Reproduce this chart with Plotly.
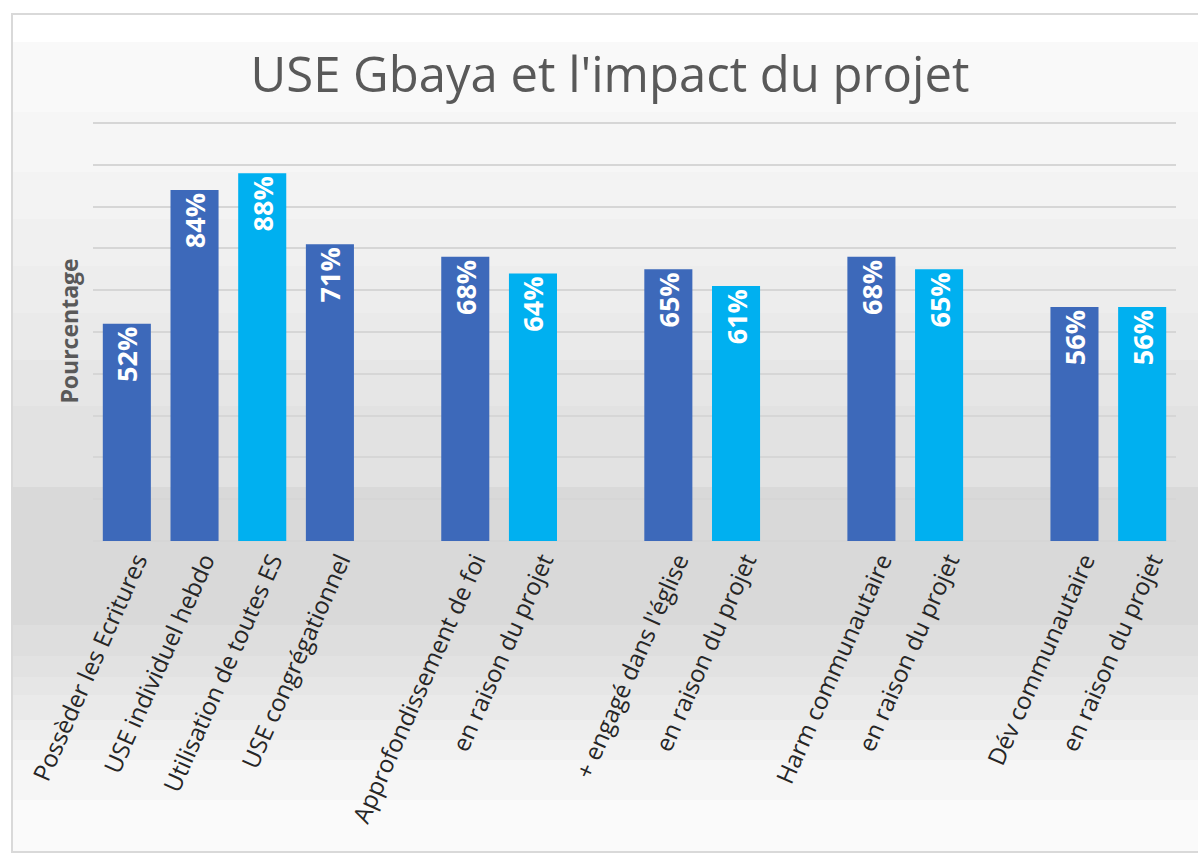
import plotly.graph_objects as go

# ---------------- data ----------------
title_text = "USE Gbaya et l'impact du projet"
y_title = "Pourcentage"

group1_labels = ["Possèder les Ecritures", "USE individuel hebdo",
                 "Utilisation de toutes ES", "USE congrégationnel"]
group1_values = [52, 84, 88, 71]

group2_labels = ["Approfondissement de foi", "en raison du projet"]
group2_values = [68, 64]

group3_labels = ["+ engagé dans l'église", "en raison du projet"]
group3_values = [65, 61]

group4_labels = ["Harm communautaire", "en raison du projet"]
group4_values = [68, 65]

group5_labels = ["Dév communautaire", "en raison du projet"]
group5_values = [56, 56]

# ---------------- styles ----------------
DARK = "#3D69BA"
LIGHT = "#00B0F0"
group1_colors = [DARK, DARK, LIGHT, DARK]
pair_colors = [DARK, LIGHT]

groups = [
    (group1_labels, group1_values, group1_colors),
    (group2_labels, group2_values, pair_colors),
    (group3_labels, group3_values, pair_colors),
    (group4_labels, group4_values, pair_colors),
    (group5_labels, group5_values, pair_colors),
]

# positions: one empty slot between groups
xs, ys, labels, colors = [], [], [], []
pos = 0
for gi, (labs, vals, cols) in enumerate(groups):
    if gi > 0:
        pos += 1
    for lab, val, col in zip(labs, vals, cols):
        xs.append(pos)
        ys.append(val)
        labels.append(lab)
        colors.append(col)
        pos += 1

W, H = 1198, 859
ML, MR, MT, MB = 93, 22, 121, 318
PW = W - ML - MR
PH = H - MT - MB
YMAX = 100.5


def px_x(p):
    return (p - ML) / PW


def px_y(p):
    return (H - MB - p) / PH


fig = go.Figure()
fig.add_trace(go.Bar(
    x=xs, y=ys,
    marker=dict(color=colors, line=dict(width=0)),
    text=[f"{v}%" for v in ys],
    textposition="inside",
    insidetextanchor="end",
    textangle=-90,
    constraintext="none",
    textfont=dict(family="Open Sans", size=27, color="white", weight="bold"),
    hoverinfo="skip",
    showlegend=False,
))

# background bands (stepped gradient like the original)
bands = [
    (14, 42, 255), (42, 112, 249), (112, 172, 246), (172, 219, 243),
    (219, 266, 240), (266, 313, 237), (313, 360, 234), (360, 406, 230),
    (406, 487, 226), (487, 625, 217), (625, 656, 222), (656, 677, 226),
    (677, 695, 230), (695, 720, 234), (720, 740, 238), (740, 760, 242),
    (760, 800, 246), (800, 852, 250),
]
shapes = []
for y0, y1, g in bands:
    shapes.append(dict(
        type="rect", xref="paper", yref="paper", layer="below",
        x0=px_x(12), x1=px_x(W + 5), y0=px_y(y1), y1=px_y(y0),
        fillcolor=f"rgb({g},{g},{g})", line=dict(width=0),
    ))
shapes.append(dict(
    type="rect", xref="paper", yref="paper", layer="below",
    x0=px_x(12), x1=px_x(W + 5), y0=px_y(852), y1=px_y(14),
    fillcolor="rgba(0,0,0,0)", line=dict(color="#D9D9D9", width=2),
))

fig.update_layout(
    width=W, height=H,
    margin=dict(l=ML, r=MR, t=MT, b=MB, pad=0),
    paper_bgcolor="white",
    plot_bgcolor="rgba(0,0,0,0)",
    bargap=0.29,
    shapes=shapes,
    title=dict(
        text=title_text,
        x=610 / W, xanchor="center",
        y=1 - 75 / H, yanchor="middle",
        font=dict(family="Open Sans", size=49, color="#595959"),
    ),
    xaxis=dict(
        tickmode="array", tickvals=xs, ticktext=labels,
        tickangle=-66,
        ticklabelshift=10,
        tickfont=dict(family="Open Sans", size=24, color="#262626"),
        range=[-0.5, pos - 0.5],
        showgrid=False, showline=False, zeroline=False, ticks="",
    ),
    yaxis=dict(
        range=[0, YMAX], tickmode="array", tickvals=list(range(0, 101, 10)),
        showticklabels=False, ticks="",
        showgrid=True, gridcolor="#D6D6D6", gridwidth=2,
        zeroline=True, zerolinecolor="#D6D6D6", zerolinewidth=2,
        showline=False,
        title=dict(text=y_title, standoff=6,
                   font=dict(family="Open Sans", size=23, color="#595959", weight="bold")),
    ),
    font=dict(family="Open Sans"),
)

fig.write_html("out.html", config={"displayModeBar": False},
               post_script="document.body.style.margin='0';")
